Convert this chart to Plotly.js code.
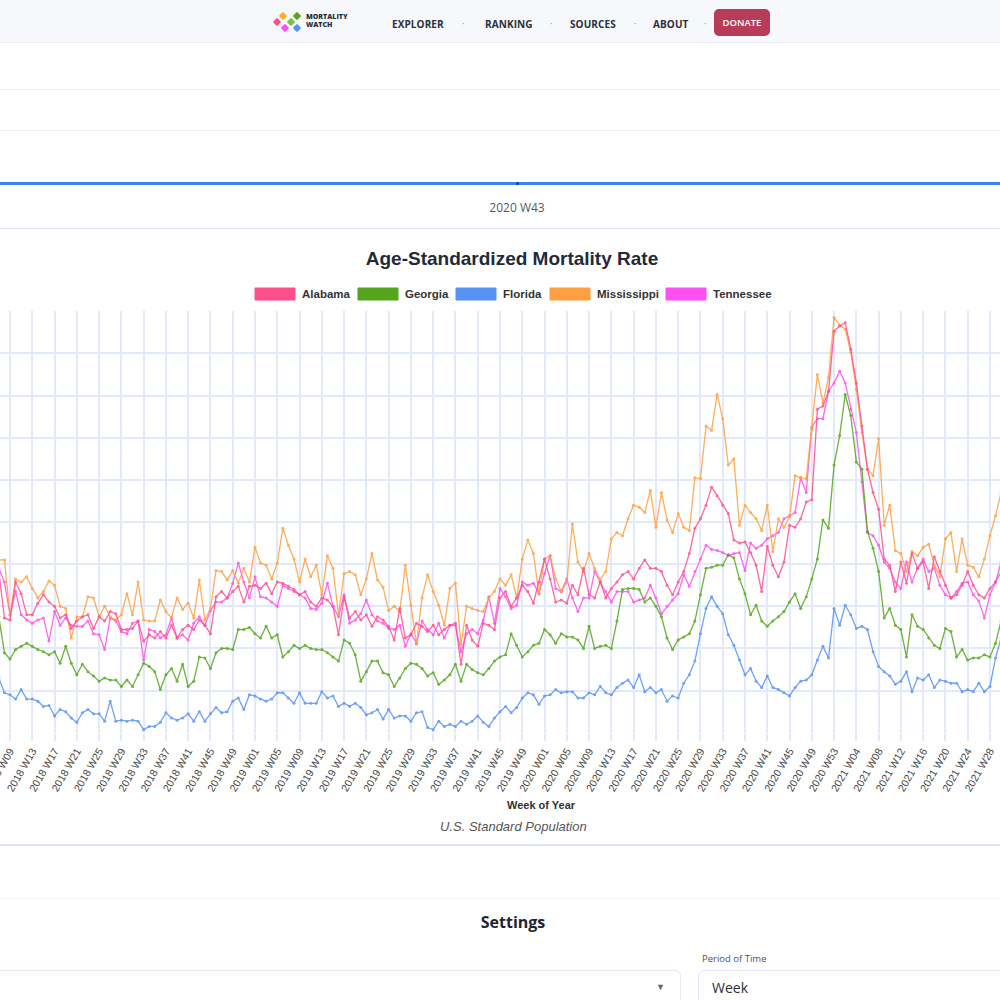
<!DOCTYPE html>
<html>
<head>
<meta charset="utf-8">
<script src="https://cdn.plot.ly/plotly-3.0.1.min.js"></script>
<style>
  html, body { margin:0; padding:0; width:1000px; height:1000px; overflow:hidden; background:#ffffff;
    font-family:"Open Sans","Liberation Sans",Arial,sans-serif; }
  .abs { position:absolute; }
  #nav { left:0; top:0; width:1000px; height:42px; background:#f7f8fc; border-bottom:1px solid #e9ecf6; }
  .navlink { position:absolute; top:17px; font-size:10px; font-weight:700; color:#2b2f3a; letter-spacing:0.1px; }
  .dot { position:absolute; top:16px; font-size:10px; color:#9aa0ad; }
  #donate { position:absolute; left:714px; top:9px; width:56px; height:27px; border-radius:5px; background:#b83c58;
    color:#fff; font-size:9.5px; font-weight:600; text-align:center; line-height:27px; }
  .logo-sq { position:absolute; width:6px; height:6px; transform:rotate(45deg); border-radius:1px; }
  .hline { position:absolute; left:0; width:1000px; height:1px; background:#eef1f8; }
  #slider { left:0; top:182px; width:1000px; height:3px; background:#3b82f6; }
  #sliderknob { left:516px; top:182px; width:3px; height:3px; background:#1e3a8a; border-radius:2px; }
  #period { left:0; top:199px; width:1034px; text-align:center; font-size:12px; color:#555b66; }
  #chart { position:absolute; left:0; top:229px; width:1000px; height:615px; }
  #settings { left:0; top:911px; width:1026px; text-align:center; font-size:16px; font-weight:700; color:#1f2430; }
  #selbox { left:-12px; top:970px; width:691px; height:44px; border:1px solid #e4e7ef; border-radius:6px; background:#fff; }
  #selarrow { left:656px; top:980px; font-size:9px; color:#666; }
  #plabel { left:702px; top:952px; font-size:9.5px; color:#4b5160; }
  #inbox { left:698px; top:970px; width:320px; height:44px; border:1px solid #e4e7ef; border-radius:6px; background:#fff; }
  #intext { left:712px; top:978px; font-size:14px; color:#2b2f3a; }
</style>
</head>
<body>
<div id="nav" class="abs">
  <div class="logo-sq" style="left:274px;top:19px;background:#ff4f8b"></div>
  <div class="logo-sq" style="left:280px;top:13px;background:#ffb020"></div>
  <div class="logo-sq" style="left:282px;top:25px;background:#ff4fee"></div>
  <div class="logo-sq" style="left:288px;top:19px;background:#7cc242"></div>
  <div class="logo-sq" style="left:294px;top:13px;background:#55a51c"></div>
  <div class="logo-sq" style="left:294px;top:25px;background:#5892f5"></div>
  <div style="position:absolute;left:306px;top:13px;font-size:7px;font-weight:800;line-height:8px;color:#2b2f3a;">MORTALITY<br>WATCH</div>
  <div class="navlink" style="left:392px">EXPLORER</div>
  <div class="dot" style="left:462px">·</div>
  <div class="navlink" style="left:485px">RANKING</div>
  <div class="dot" style="left:550px">·</div>
  <div class="navlink" style="left:570px">SOURCES</div>
  <div class="dot" style="left:634px">·</div>
  <div class="navlink" style="left:653px">ABOUT</div>
  <div class="dot" style="left:704px">·</div>
  <div id="donate">DONATE</div>
</div>
<div class="hline" style="top:89px"></div>
<div class="hline" style="top:130px"></div>
<div id="slider" class="abs"></div>
<div id="sliderknob" class="abs"></div>
<div id="period" class="abs">2020 W43</div>
<div class="hline" style="top:228px;background:#dfe5f5;height:2px"></div>
<div id="chart"></div>
<div class="hline" style="top:844px;background:#dfe5f5;height:2px"></div>
<div class="hline" style="top:898px;background:#f0f2f8"></div>
<div id="settings" class="abs">Settings</div>
<div id="selbox" class="abs"></div>
<div id="selarrow" class="abs">▼</div>
<div id="plabel" class="abs">Period of Time</div>
<div id="inbox" class="abs"></div>
<div id="intext" class="abs">Week</div>

<script>
// ---- Data (age-standardized mortality rate, weekly) ----
const startYear = 2018;
const startWeek = 7;          // first plotted week: 2018 W07
const weeksPerYear = { 2018: 52, 2019: 52, 2020: 53, 2021: 52 };

const alabama = [
  19.65,17.45,17.35,19.15,18.6,17.6,17.6,18.15,18.55,18.2,18.0,17.45,17.6,16.95,17.3,17.5,17.6,16.95,17.5,17.3,
  17.75,17.65,16.9,16.9,16.95,17.3,16.35,16.65,16.5,16.8,16.5,17.1,16.5,16.9,17.1,16.9,17.35,17.1,16.7,18.45,
  18.7,18.4,18.7,18.95,18.2,18.95,
  19.0,18.85,19.1,18.6,19.15,19.1,18.95,18.8,18.55,18.7,18.2,18.0,18.4,18.3,18.0,16.65,18.45,17.45,17.75,17.35,
  17.6,17.05,17.5,17.35,17.05,16.4,17.9,16.5,16.65,17.2,17.05,16.8,17.1,16.65,16.9,17.1,17.2,15.25,17.1,16.4,
  16.1,17.2,17.1,16.9,18.4,
  18.7,18.0,18.4,19.0,18.7,18.15,19.15,20.25,19.3,18.2,18.3,18.15,19.0,18.55,19.8,18.55,18.4,19.15,18.4,18.85,
  19.15,19.5,19.65,19.3,19.8,20.2,19.8,19.8,19.65,19.0,18.55,19.15,19.65,20.5,21.7,22.15,22.8,23.65,23.25,22.8,
  22.4,21.15,21.0,21.05,20.55,
  19.95,18.7,20.85,19.95,19.4,20.1,21.85,21.75,22.15,22.95,23.05,27.35,27.5,28.2,31.05,31.3,31.45,30.2,28.6,26.55,
  24.5,23.4,22.6,20.25,19.95,18.7,20.1,19.1,20.5,19.8,20.1,18.85,20.35,19.65,19.0,18.4,18.55,19.0,19.65,19.0,
  18.55,18.4,18.85,19.15,19.65
];
const georgia = [
  17.5,15.8,15.5,15.95,16.1,16.25,16.1,15.95,15.85,15.7,15.85,15.3,16.1,15.3,14.75,15.25,14.9,14.7,14.45,14.6,
  14.5,14.5,14.2,14.5,14.2,14.75,15.3,15.15,14.9,14.05,14.75,15.05,14.45,15.25,14.2,14.45,15.6,15.55,15.05,15.8,
  16.0,16.0,15.95,16.9,16.9,17.0,
  16.7,16.5,17.05,16.5,16.65,15.6,15.85,16.15,16.0,16.15,16.0,15.95,15.95,15.8,15.6,15.4,16.4,16.25,15.7,14.45,
  14.9,15.4,15.4,14.85,14.75,14.2,14.6,15.05,15.3,15.25,15.05,14.7,14.85,14.3,14.5,14.75,15.25,14.45,15.25,15.0,
  14.85,14.75,15.05,15.4,15.6,
  15.7,16.7,16.15,15.6,15.85,16.15,16.25,16.9,16.65,16.25,16.7,16.55,16.55,16.4,16.0,17.05,16.0,16.1,16.15,16.0,
  17.3,18.8,18.85,18.85,18.8,18.2,18.4,18.0,17.5,16.5,15.95,16.4,16.55,16.7,17.3,18.55,19.8,19.85,19.95,19.95,
  20.45,20.3,19.3,18.6,17.6,
  18.05,17.3,17.05,17.3,17.5,17.75,18.2,18.6,17.9,18.45,19.3,20.25,22.1,21.7,24.7,26.1,28.05,27.05,24.85,24.5,
  21.55,20.75,19.65,17.45,17.9,17.1,16.9,15.6,17.6,17.05,16.9,16.5,16.15,16.0,16.95,16.8,15.6,15.95,15.45,15.55,
  15.55,15.7,15.6,16.25,17.3
];
const florida = [
  14.6,13.9,13.8,13.6,14.05,13.6,13.6,13.5,13.25,13.3,12.8,13.1,13.0,12.7,12.5,12.95,13.1,12.9,12.9,12.55,
  13.5,12.55,12.6,12.55,12.6,12.55,12.15,12.3,12.3,12.5,12.95,12.7,12.6,12.7,12.9,12.55,13.0,12.55,12.9,13.2,
  12.95,13.0,13.5,13.65,13.1,13.8,
  13.75,13.6,13.5,13.6,13.9,13.9,13.65,13.4,13.9,13.4,13.4,13.4,13.95,13.65,13.75,13.25,13.4,13.25,13.4,13.2,
  12.85,12.95,13.1,12.65,13.1,12.7,12.8,12.8,12.55,12.95,13.0,12.25,12.15,12.55,12.3,12.4,12.3,12.55,12.4,12.55,
  12.8,12.5,12.3,12.7,13.0,
  13.25,12.95,13.2,13.65,13.9,13.8,13.35,13.75,13.8,14.05,13.9,13.95,13.95,13.65,13.65,13.9,13.8,14.2,13.9,13.8,
  14.15,14.35,14.5,14.15,14.75,13.95,14.15,13.9,14.05,13.5,13.75,13.65,14.35,14.75,15.4,16.7,17.9,18.45,18.0,17.65,
  16.65,16.15,15.45,14.75,15.05,
  14.45,14.15,14.7,14.15,14.05,13.9,13.75,14.15,14.45,14.5,14.75,15.45,16.1,15.55,17.9,17.1,18.05,17.6,16.95,17.05,
  16.9,15.85,15.15,14.9,14.7,14.3,14.45,14.9,13.95,14.6,14.5,14.75,14.15,14.5,14.45,14.35,14.35,13.95,14.05,13.95,
  14.35,13.95,14.2,15.55,16.5
];
const mississippi = [
  20.2,20.2,17.6,19.3,19.15,19.4,18.85,18.4,18.7,19.2,19.0,18.0,17.9,16.5,17.5,17.5,18.45,18.4,17.5,18.0,
  17.5,17.35,17.6,18.6,17.6,19.15,17.35,17.3,17.3,18.3,17.75,17.45,18.4,17.85,18.15,17.45,19.25,17.35,17.9,19.7,
  19.65,19.25,19.7,19.1,19.8,19.15,
  20.8,20.05,19.95,19.3,20.05,21.7,20.9,20.25,19.15,20.25,19.4,19.95,18.55,20.4,19.8,17.6,19.55,19.65,19.5,18.55,
  19.3,20.5,19.25,18.9,17.8,18.0,17.75,19.95,18.05,16.2,18.4,19.5,18.7,18.05,17.1,18.85,19.1,16.2,18.0,17.9,
  17.8,17.75,18.4,18.7,19.3,
  19.0,19.5,18.4,20.25,21.15,20.5,18.6,20.25,20.4,19.3,18.7,19.15,21.9,20.1,19.65,20.5,19.8,19.25,19.65,21.2,
  21.5,21.35,22.15,22.8,22.7,22.45,23.5,21.75,23.4,22.1,21.5,22.4,21.75,21.6,24.1,24.05,26.55,26.35,28.05,26.9,
  24.7,25.0,21.85,22.8,22.45,
  22.15,21.6,22.8,20.6,22.15,21.75,22.25,24.2,24.1,24.05,26.4,29.0,27.65,28.85,31.7,31.35,31.15,30.05,28.3,26.25,
  24.5,24.2,25.95,21.85,22.8,20.65,20.5,19.65,20.6,20.4,20.8,20.95,19.95,19.4,21.2,21.5,19.65,21.2,19.95,19.85,
  19.4,20.25,21.35,22.3,23.4
];
const tennessee = [
  19.8,19.15,17.6,18.7,17.6,17.35,17.2,17.35,17.45,16.35,17.75,17.1,17.45,17.1,17.05,17.05,17.3,16.7,16.65,15.95,
  17.45,17.3,16.8,16.7,17.2,17.3,15.45,16.9,16.8,16.5,16.65,17.45,16.5,16.65,16.4,17.2,17.5,17.1,17.8,18.2,
  18.2,18.4,19.1,20.05,19.15,18.4,
  19.4,18.45,18.4,18.2,18.0,19.0,18.85,18.7,18.55,18.4,17.9,17.85,18.15,19.1,18.0,17.5,18.55,17.2,17.35,17.65,
  18.3,17.6,17.3,17.2,16.95,16.9,17.1,16.1,16.7,16.25,17.3,16.9,16.65,17.2,16.5,17.1,17.1,15.85,16.7,16.9,
  16.7,17.35,18.45,17.2,18.85,
  18.45,17.9,18.05,19.15,19.0,19.1,18.6,19.55,20.4,18.85,18.7,19.3,18.4,17.75,18.4,18.4,19.65,19.15,18.7,18.2,
  18.7,18.7,18.7,18.2,18.3,18.4,19.0,18.4,17.65,18.0,18.3,18.6,19.5,18.95,19.65,20.25,20.9,20.7,20.65,20.55,
  20.4,20.5,20.55,19.7,21.0,
  20.75,20.9,21.2,21.35,21.5,22.15,22.3,22.45,24.1,23.4,26.5,26.9,26.9,28.2,28.6,29.15,28.6,27.35,26.25,23.9,
  21.5,21.35,20.9,20.1,19.8,19.15,18.85,20.1,19.15,19.8,20.25,19.65,19.8,19.0,18.55,18.4,18.7,19.1,19.15,18.55,
  18.25,17.45,18.55,19.15,20.1
];

const seriesNames  = ['Alabama', 'Georgia', 'Florida', 'Mississippi', 'Tennessee'];
const seriesValues = [alabama, georgia, florida, mississippi, tennessee];
const seriesColors = ['#ff4f8b', '#55a51c', '#5892f5', '#ffa040', '#ff4fee'];

// week category labels, e.g. "2018 W07"
function weekLabels(y0, w0, n) {
  const out = []; let y = y0, w = w0;
  for (let k = 0; k < n; k++) {
    out.push(y + ' W' + String(w).padStart(2, '0'));
    w++; if (w > weeksPerYear[y]) { w = 1; y++; }
  }
  return out;
}
const weeks = weekLabels(startYear, startWeek, alabama.length);
const tickWeeks = weeks.filter((_, k) => k % 4 === 2);   // 2018 W09, W13, ...

// data traces: Alabama drawn last so it sits above the others
const order = [4, 3, 2, 1, 0];
const traces = order.map(k => ({
  type: 'scatter', mode: 'lines+markers', name: seriesNames[k],
  x: weeks, y: seriesValues[k],
  line: { color: seriesColors[k], width: 1.3 },
  marker: { color: seriesColors[k], size: 3 },
  opacity: 0.85,
  hoverinfo: 'x+y+name'
}));

// Chart.js-style legend: colour boxes + labels above the plot (paper coordinates)
const legendBoxX  = [0.255, 0.358, 0.456, 0.550, 0.666];
const legendBoxW  = 0.040;
const shapes = seriesNames.map((n, k) => ({
  type: 'rect', xref: 'paper', yref: 'paper',
  x0: legendBoxX[k], x1: legendBoxX[k] + legendBoxW, y0: 1.026, y1: 1.0545,
  fillcolor: seriesColors[k], line: { color: seriesColors[k], width: 1 }
}));
const legendText = seriesNames.map((n, k) => ({
  text: n, xref: 'paper', yref: 'paper', x: legendBoxX[k] + legendBoxW + 0.005, y: 1.0403,
  xanchor: 'left', yanchor: 'middle', showarrow: false,
  font: { size: 11.5, color: '#333', family: 'Liberation Sans, Arial, sans-serif', weight: 'bold' }
}));

const grid = '#e4e9fa';
const layout = {
  width: 1000, height: 615,
  margin: { l: 0, r: 0, t: 82, b: 111, pad: 0 },
  paper_bgcolor: '#ffffff', plot_bgcolor: '#ffffff',
  font: { family: 'Liberation Sans, Arial, sans-serif', color: '#444' },
  title: { text: 'Age-Standardized Mortality Rate', x: 0.512, xanchor: 'center',
           y: 0.952, yref: 'container', yanchor: 'middle',
           font: { family: 'Liberation Sans, Arial, sans-serif', size: 19, color: '#1f2a3c', weight: 'bold' } },
  showlegend: false,
  xaxis: { type: 'category', range: [0.204, 179.8], tickmode: 'array', tickvals: tickWeeks,
           tickangle: -60, tickfont: { size: 10.5, color: '#444' },
           showgrid: true, gridcolor: grid, gridwidth: 1.5,
           ticks: 'outside', ticklen: 7, tickcolor: grid, tickwidth: 1.5,
           showline: false, zeroline: false, automargin: false, fixedrange: true },
  yaxis: { range: [11.99, 32.01], tickmode: 'linear', tick0: 12, dtick: 2,
           showgrid: true, gridcolor: grid, gridwidth: 1.5, showticklabels: false,
           zeroline: false, showline: false, automargin: false, fixedrange: true },
  shapes: shapes,
  annotations: legendText.concat([
    { text: '<b>Week of Year</b>', xref: 'paper', yref: 'paper', x: 0.541, y: -0.1706,
      showarrow: false, font: { size: 11, color: '#333' }, xanchor: 'center', yanchor: 'middle' },
    { text: '<i>U.S. Standard Population</i>', xref: 'paper', yref: 'paper', x: 0.513, y: -0.2204,
      showarrow: false, font: { size: 13, color: '#555' }, xanchor: 'center', yanchor: 'middle' }
  ])
};

Plotly.newPlot('chart', traces, layout, { displayModeBar: false, responsive: false });
</script>
</body>
</html>
